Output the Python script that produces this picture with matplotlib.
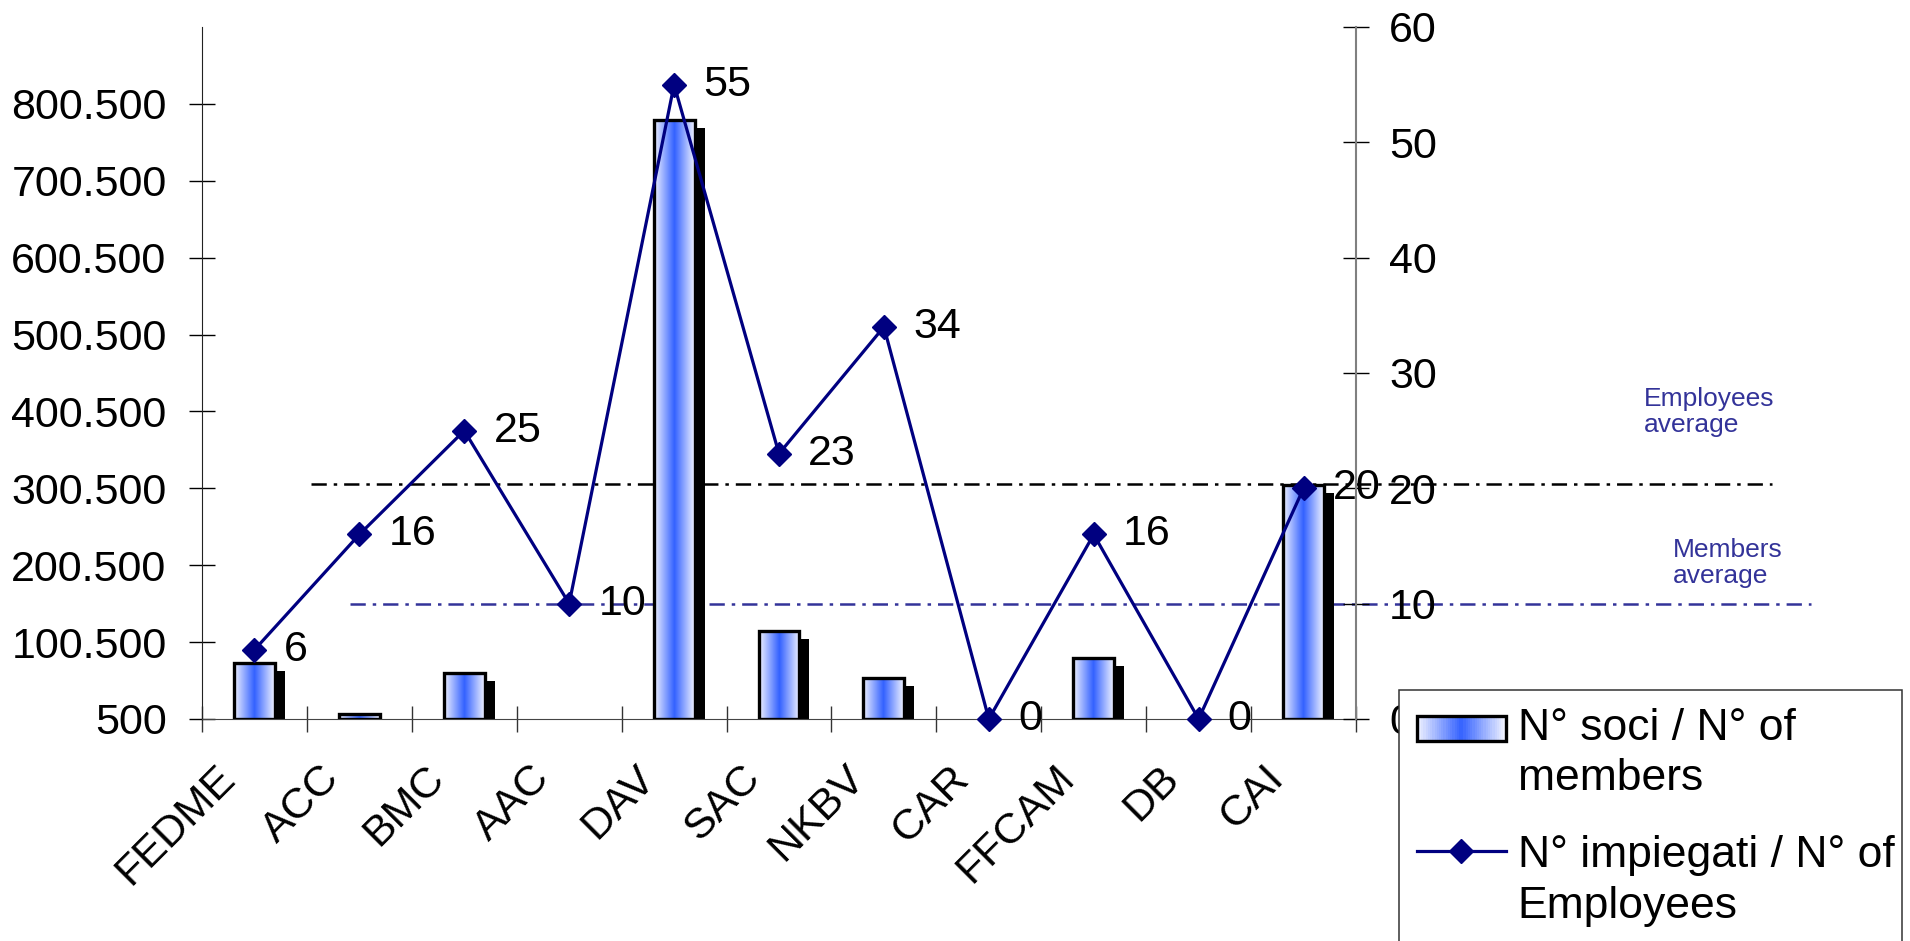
import matplotlib
matplotlib.use('Agg')
import matplotlib.pyplot as plt
import numpy as np
from matplotlib.patches import Rectangle
from matplotlib.lines import Line2D
from matplotlib.legend_handler import HandlerBase
from matplotlib.transforms import ScaledTranslation, blended_transform_factory

plt.rcParams['font.family'] = ['Liberation Sans', 'DejaVu Sans']
plt.rcParams['lines.scale_dashes'] = False

# data
clubs = ['FEDME', 'ACC', 'BMC', 'AAC', 'DAV', 'SAC', 'NKBV', 'CAR', 'FFCAM', 'DB', 'CAI']
members = [73000, 7000, 60000, 0, 780000, 115000, 54000, 0, 80000, 0, 305000]
employees = [6, 16, 25, 10, 55, 23, 34, 0, 16, 0, 20]
members_avg = 150500     # level of the drawn line, left axis
employees_avg = 20.4     # level of the drawn line, right axis
members_ticks = [500, 100500, 200500, 300500, 400500, 500500, 600500, 700500, 800500]
employees_ticks = [0, 10, 20, 30, 40, 50, 60]
members_lim = (500, 900500)
employees_lim = (0, 60)

NAVY = '#000080'
AVG_BLUE = '#333399'
LIGHT = np.array([0.94, 0.95, 1.0])
BLUE = np.array([0.20, 0.38, 1.0])
FS = 31
LEG_FS = 32
LEG_LS = 1.3

W, H, DPI = 1910, 941, 100
fig = plt.figure(figsize=(W / DPI, H / DPI), dpi=DPI)
ax = fig.add_axes([202 / W, 1 - 719 / H, (1356 - 202) / W, (719 - 27) / H])
ax2 = ax.twinx()
ax.set_zorder(1)
ax2.set_zorder(2)
ax2.patch.set_visible(False)


def grad_colors(n):
    t = np.linspace(-1, 1, n)
    w = 1 - np.abs(t)
    return LIGHT + (BLUE - LIGHT) * w[:, None]


grad = grad_colors(101)[None, :, :]

# bars with shadow and gradient fill
x = np.arange(len(clubs)) + 0.5
bw = 0.39
base = members_lim[0]
shadow_off = ScaledTranslation(10 / DPI, -8 / DPI, fig.dpi_scale_trans)
for xi, v in zip(x, members):
    if v <= base:
        continue
    ax.add_patch(Rectangle((xi - bw / 2, base), bw, v - base, facecolor='black',
                           edgecolor='none', transform=ax.transData + shadow_off, zorder=2))
    ax.imshow(grad, extent=(xi - bw / 2, xi + bw / 2, base, v), aspect='auto',
              interpolation='bilinear', zorder=3)
    ax.add_patch(Rectangle((xi - bw / 2, base), bw, v - base, fill=False,
                           edgecolor='black', lw=2.4, zorder=4))

# average lines (behind the bars, running past the axes)
emp_on_left = members_lim[0] + employees_avg / employees_lim[1] * (members_lim[1] - members_lim[0])
tr = blended_transform_factory(ax.transAxes, ax.transData)
dash = (0, (11, 5, 2.5, 5))
ax.plot([0.0945, 1.3605], [emp_on_left, emp_on_left], transform=tr, color='black',
        lw=1.8, linestyle=dash, clip_on=False, zorder=1)
ax.plot([0.128, 1.394], [members_avg, members_avg], transform=tr, color=AVG_BLUE,
        lw=1.8, linestyle=dash, clip_on=False, zorder=1)

# employees line
ax2.plot(x, employees, color=NAVY, lw=2.3, marker='D', ms=12.5, clip_on=False, zorder=3)
for xi, e in zip(x, employees):
    ax2.annotate(str(e), (xi, e), xytext=(21, 0), textcoords='offset points',
                 ha='left', va='center', fontsize=31, color='black')

ax.set_xlim(0, len(clubs))
ax.set_ylim(*members_lim)
ax2.set_ylim(*employees_lim)

ax.set_yticks(members_ticks)
ax.set_yticklabels([f'{v:,}'.replace(',', '.') for v in members_ticks])
ax.tick_params(axis='y', direction='inout', length=19.4, width=1, pad=15.8, labelsize=FS)
ax2.set_yticks(employees_ticks)
ax2.tick_params(axis='y', direction='inout', length=19, width=1, pad=14.4, labelsize=FS)

ax.set_xticks(np.arange(len(clubs) + 1))
ax.set_xticklabels([])
ax.set_xticks(x - 0.245, minor=True)
ax.set_xticklabels(clubs, minor=True, rotation=45, ha='right', va='center',
                   rotation_mode='anchor', fontsize=FS)
ax.tick_params(axis='x', which='major', direction='inout', length=19, width=1, color='#333333')
ax.tick_params(axis='x', which='minor', length=0, pad=38)

for s in ['top', 'right']:
    ax.spines[s].set_visible(False)
for s in ['top', 'left', 'bottom']:
    ax2.spines[s].set_visible(False)
ax.spines['left'].set_color('#222222')
ax.spines['bottom'].set_color('#444444')
ax2.spines['right'].set_color('#808080')
ax2.spines['right'].set_linewidth(1.5)

# notes for the average lines
fig.text(1644 / W, 1 - 387 / H, 'Employees\naverage', color=AVG_BLUE, fontsize=19,
         ha='left', va='top', linespacing=1.1)
fig.text(1673 / W, 1 - 538 / H, 'Members\naverage', color=AVG_BLUE, fontsize=19,
         ha='left', va='top', linespacing=1.1)

# legend: handles sit next to the first line of each two-line label
HANDLE_Y = 1.16 * LEG_FS + 0.358 * LEG_FS - 16   # points above the last baseline


class GradientHandler(HandlerBase):
    def create_artists(self, legend, orig_handle, xdescent, ydescent, width, height,
                       fontsize, trans):
        h = 18.7
        x0, y0 = -xdescent, HANDLE_Y - 3 - h / 2 - ydescent
        n = 40
        arts = []
        for i, c in enumerate(grad_colors(n)):
            arts.append(Rectangle((x0 + i * width / n, y0), width / n * 1.05, h, facecolor=c,
                                  edgecolor='none', transform=trans))
        arts.append(Rectangle((x0, y0), width, h, fill=False, edgecolor='black', lw=2.4,
                              transform=trans))
        return arts


class LineHandler(HandlerBase):
    def create_artists(self, legend, orig_handle, xdescent, ydescent, width, height,
                       fontsize, trans):
        x0, y = -xdescent, HANDLE_Y - ydescent
        line = Line2D([x0, x0 + width], [y, y], color=NAVY, lw=2.3, transform=trans)
        mark = Line2D([x0 + width / 2], [y], marker='D', ms=12.5, color=NAVY, transform=trans)
        return [line, mark]


fig.add_artist(Rectangle((1399 / W, -0.05), (1902 - 1399) / W, (941 - 690) / H + 0.05,
                         transform=fig.transFigure, facecolor='white', edgecolor='#333333',
                         lw=1.1, zorder=4))
bar_proxy = Rectangle((0, 0), 1, 1)
line_proxy = Line2D([], [])
leg = fig.legend([bar_proxy, line_proxy],
                 ['N° soci / N° of\nmembers', 'N° impiegati / N° of\nEmployees'],
                 handler_map={bar_proxy: GradientHandler(), line_proxy: LineHandler()},
                 loc='upper left', bbox_to_anchor=(1399 / W, 1 - 690 / H), borderaxespad=0,
                 borderpad=0.4, frameon=False, fontsize=LEG_FS, handlelength=2.0,
                 handletextpad=0.27, labelspacing=0.8)
for t in leg.get_texts():
    t.set_linespacing(LEG_LS)

fig.savefig('out.png', dpi=DPI)
